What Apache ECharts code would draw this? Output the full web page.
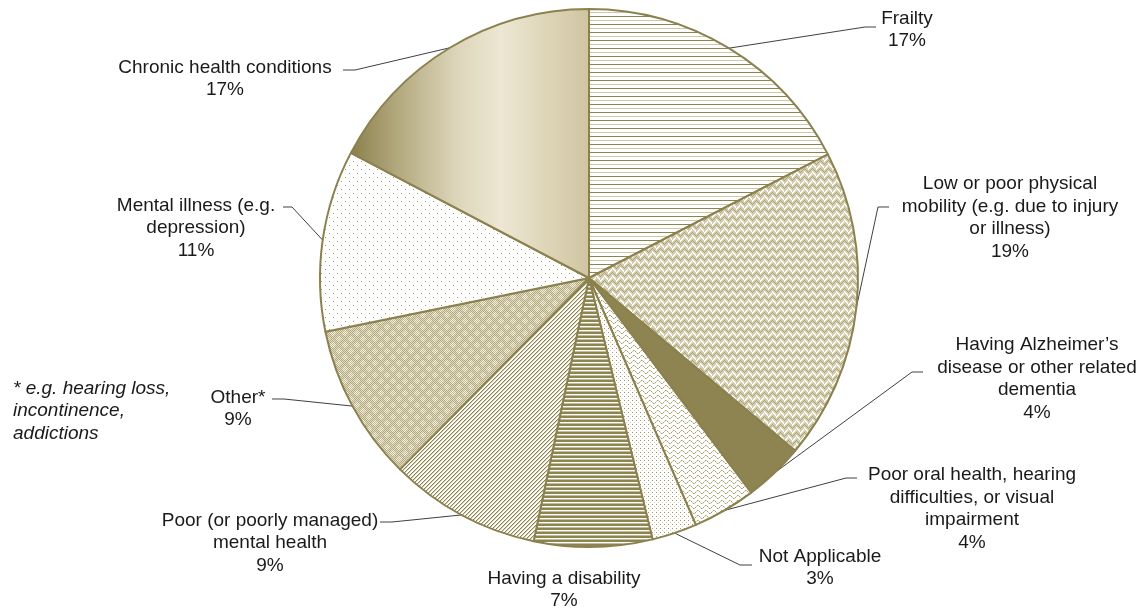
<!DOCTYPE html>
<html>
<head>
<meta charset="utf-8">
<script src="https://cdn.jsdelivr.net/npm/echarts@6/dist/echarts.min.js"></script>
<style>
html,body{margin:0;padding:0;background:#fff;}
#chart{width:1148px;height:610px;}
</style>
</head>
<body>
<div id="chart"></div>
<script>
// ---- data ----
const categories = [
  'Frailty',
  'Low or poor physical\nmobility (e.g. due to injury\nor illness)',
  'Having Alzheimer\u2019s\ndisease or other related\ndementia',
  'Poor oral health, hearing\ndifficulties, or visual\nimpairment',
  'Not Applicable',
  'Having a disability',
  'Poor (or poorly managed)\nmental health',
  'Other*',
  'Mental illness (e.g.\ndepression)',
  'Chronic health conditions'
];
const values = [17.4, 18.7, 3.6, 3.8, 2.7, 7.1, 9.1, 9.4, 10.9, 17.3];
const footnote = '* e.g. hearing loss,\nincontinence,\naddictions';

// ---- styling / layout ----
const OLIVE = '#8e8452';
const PALE = '#cfc8a6';
const BEIGE = '#d4cdb0';

function tile(w, h, fn) {
  const c = document.createElement('canvas');
  c.width = w; c.height = h;
  const ctx = c.getContext('2d');
  ctx.fillStyle = '#ffffff';
  ctx.fillRect(0, 0, w, h);
  fn(ctx, w, h);
  return { image: c, repeat: 'repeat' };
}
function px(ctx, x, y, col) { ctx.fillStyle = col; ctx.fillRect(x, y, 1, 1); }

const patThinH = tile(4, 8, (ctx, w) => {
  ctx.fillStyle = OLIVE; ctx.fillRect(0, 0, w, 1);
  ctx.fillStyle = PALE; ctx.fillRect(0, 4, w, 1);
});
const patWeave = tile(8, 8, (ctx, w, h) => {
  ctx.fillStyle = BEIGE; ctx.fillRect(0, 0, w, h);
  for (let y = 0; y < h; y++) for (let x = 0; x < w; x++) {
    const a = (x + y) % 8, b = (x - y + 16) % 8;
    if ((x < 4 && a < 2) || (x >= 4 && b < 2)) px(ctx, x, y, '#ffffff');
    else if ((x < 4 && a === 4) || (x >= 4 && b === 4)) px(ctx, x, y, '#aaa173');
  }
});
const patWave = tile(8, 5, (ctx) => {
  const ys = [1, 0, 0, 1, 2, 3, 3, 2];
  for (let x = 0; x < 8; x++) { px(ctx, x, ys[x], x % 2 ? '#a49a6b' : PALE); }
});
const patDots = tile(4, 4, (ctx) => {
  px(ctx, 0, 0, '#9f9567'); px(ctx, 2, 2, '#d6d0b6');
});
const patThickH = tile(4, 4, (ctx, w) => {
  ctx.fillStyle = OLIVE; ctx.fillRect(0, 0, w, 2);
  ctx.fillStyle = '#c4bc97'; ctx.fillRect(0, 3, w, 1);
});
const patDiag = tile(4, 4, (ctx) => {
  for (let y = 0; y < 4; y++) for (let x = 0; x < 4; x++) {
    const k = (x + y) % 4;
    if (k === 0) px(ctx, x, y, OLIVE);
    else if (k === 1) px(ctx, x, y, '#d3cdb0');
  }
});
const patChecker = tile(12, 12, (ctx) => {
  for (let y = 0; y < 12; y++) for (let x = 0; x < 12; x++) {
    const d1 = Math.hypot(x - 2.5, y - 2.5), d2 = Math.hypot(x - 8.5, y - 8.5);
    const inSpot = d1 < 2.6 || d2 < 2.6;
    const odd = (x + y) % 2 === 0;
    if (inSpot) px(ctx, x, y, odd ? '#c2b992' : '#f3f0e6');
    else px(ctx, x, y, odd ? '#b3a97d' : '#e1dcc6');
  }
});
const patSparse = tile(8, 8, (ctx) => {
  px(ctx, 1, 1, '#9f9567'); px(ctx, 5, 5, '#9f9567');
});
const gradChronic = {
  type: 'linear', x: 0, y: 0, x2: 1, y2: 0,
  colorStops: [
    { offset: 0, color: '#8a7f4b' },
    { offset: 0.2, color: '#b3a97f' },
    { offset: 0.45, color: '#ddd6bb' },
    { offset: 0.63, color: '#ede7d3' },
    { offset: 1, color: '#d0c4a0' }
  ]
};
const fills = [patThinH, patWeave, OLIVE, patWave, patDots, patThickH, patDiag, patChecker, patSparse, gradChronic];

// label placement (block centre) and leader-line end near the text
const labelPos = [
  { x: 907, y: 30, bend: [865, 27], end: [876, 27] },
  { x: 1010, y: 218, bend: [878, 207], end: [889, 207] },
  { x: 1037, y: 379, bend: [912, 372], end: [923, 372] },
  { x: 972, y: 509, bend: [846, 478], end: [857, 478] },
  { x: 820, y: 568, bend: [740, 565], end: [752, 565] },
  { x: 564, y: 590 },
  { x: 270, y: 543, bend: [392, 522], end: [380, 522] },
  { x: 238, y: 409, bend: [284, 399], end: [272, 399] },
  { x: 196, y: 228, bend: [292, 207], end: [283, 207] },
  { x: 225, y: 79, bend: [355, 70], end: [343, 70] }
];

const CENTER = [589, 278];
const RADIUS = 269;

const seriesData = categories.map((name, i) => ({
  name: name,
  value: values[i],
  itemStyle: { color: fills[i] },
  labelLine: { show: !!labelPos[i].end }
}));

const chart = echarts.init(document.getElementById('chart'), null, { renderer: 'canvas' });
chart.setOption({
  animation: false,
  backgroundColor: '#ffffff',
  title: {
    text: footnote,
    left: 8,
    top: 372,
    textStyle: {
      fontFamily: 'Liberation Sans, Arial, sans-serif',
      fontStyle: 'italic',
      fontWeight: 'normal',
      fontSize: 19,
      lineHeight: 22.5,
      color: '#1a1a1a'
    }
  },
  series: [{
    type: 'pie',
    center: CENTER,
    radius: RADIUS,
    startAngle: 90,
    clockwise: true,
    avoidLabelOverlap: false,
    silent: true,
    data: seriesData,
    itemStyle: { borderColor: '#8b814f', borderWidth: 2 },
    label: {
      show: true,
      position: 'outside',
      formatter: (p) => p.name + '\n' + Math.round(p.value) + '%',
      fontFamily: 'Liberation Sans, Arial, sans-serif',
      fontSize: 19,
      lineHeight: 22.5,
      color: '#1a1a1a',
      align: 'center'
    },
    labelLine: {
      show: true,
      length: 20,
      length2: 10,
      lineStyle: { color: '#404040', width: 1 }
    },
    labelLayout: function (params) {
      const L = labelPos[params.dataIndex];
      const out = { x: L.x, y: L.y, align: 'center', verticalAlign: 'middle' };
      if (L.end) {
        let p0 = params.labelLinePoints && params.labelLinePoints[0];
        if (!p0) {
          let before = 0;
          for (let k = 0; k < params.dataIndex; k++) before += values[k];
          const total = values.reduce((a, b) => a + b, 0);
          const ang = (before + values[params.dataIndex] / 2) / total * Math.PI * 2;
          p0 = [CENTER[0] + RADIUS * Math.sin(ang), CENTER[1] - RADIUS * Math.cos(ang)];
        }
        out.labelLinePoints = [p0, L.bend, L.end];
      }
      return out;
    }
  }]
});
</script>
</body>
</html>
